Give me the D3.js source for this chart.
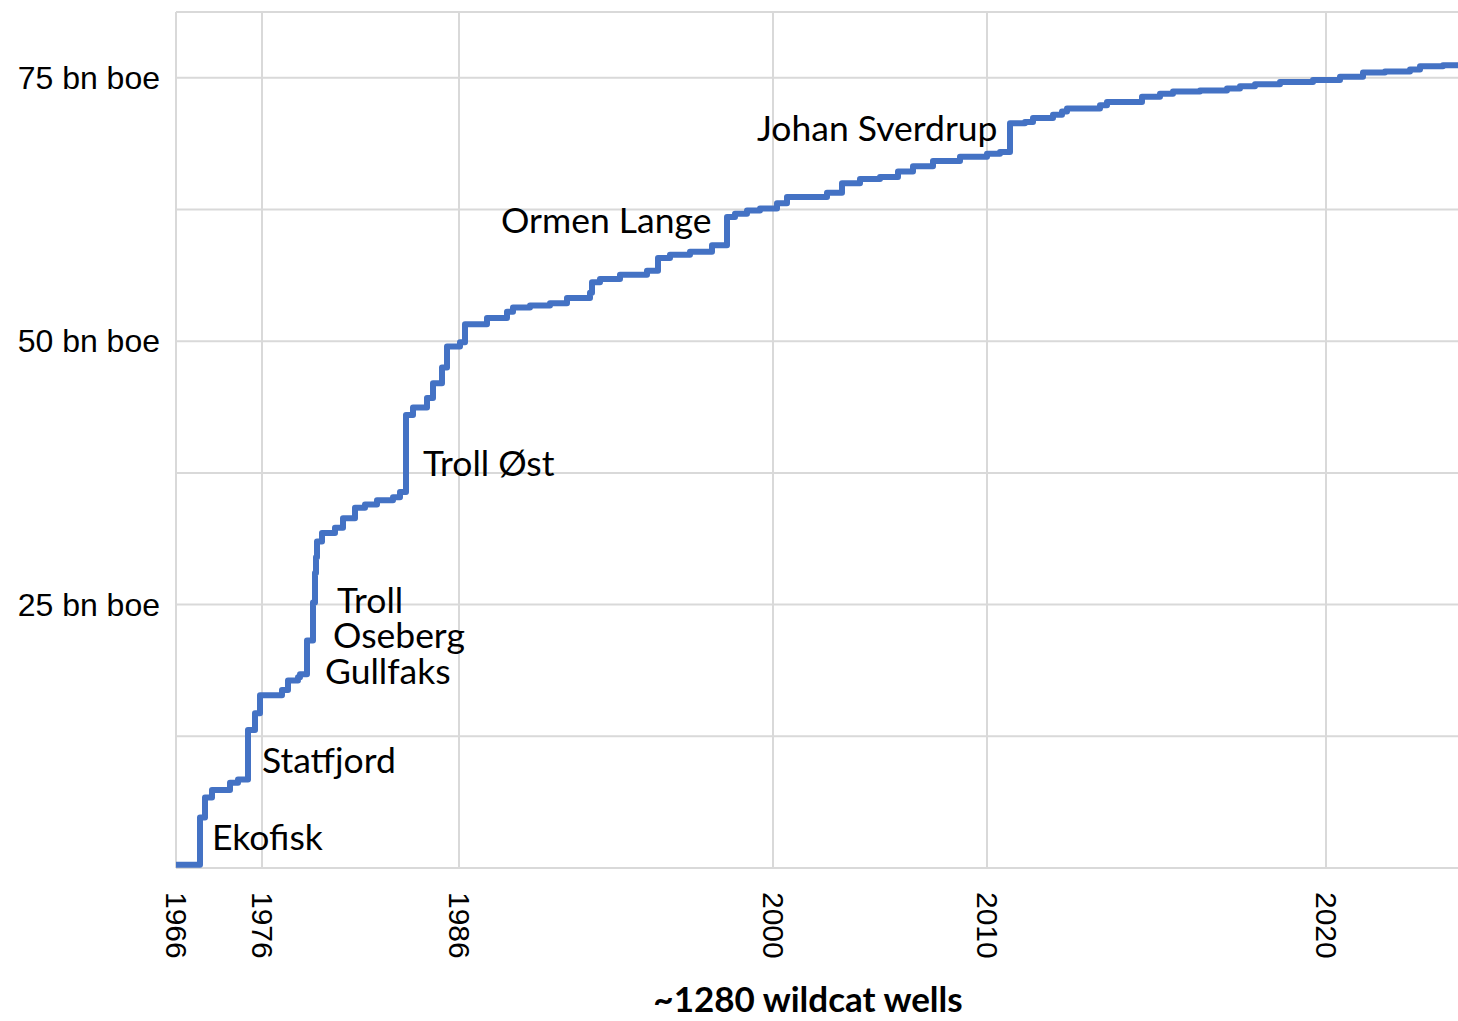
<!DOCTYPE html>
<html>
<head>
<meta charset="utf-8">
<script src="https://cdn.jsdelivr.net/npm/d3@7"></script>
<style>
  html, body { margin: 0; padding: 0; background: #fff; }
  svg { display: block; }
</style>
</head>
<body>
<div id="chart"></div>
<script>
// ---- Data (well index -> cumulative discovered resources, bn boe) ----
const wells = [0, 24, 29, 36, 54, 62, 72, 79, 84, 106, 112, 122, 124, 131, 137, 139, 140, 141, 146,
  159, 167, 179, 189, 201, 217, 224, 230, 237, 251, 257, 266, 271, 284, 289, 311, 331, 337,
  354, 374, 391, 414, 416, 424, 444, 471, 482, 494, 514, 536, 551, 559, 571,
  584, 601, 611, 651, 666, 684, 704, 722, 737, 757, 784, 811, 824, 834, 849, 857, 877, 886, 891,
  924, 931, 966, 984, 997, 1024, 1051, 1064, 1079, 1104, 1137, 1164, 1187, 1209, 1234, 1244, 1267, 1282];
const cumulative = [0.3, 4.8, 6.7, 7.4, 8.1, 8.4, 13.1, 14.7, 16.4, 16.9, 17.8, 18.1, 18.4, 21.6, 25.2, 28.0, 29.5, 31.0, 31.8,
  32.3, 33.2, 34.2, 34.5, 34.9, 35.2, 35.7, 43.0, 43.7, 44.6, 46.0, 47.5, 49.5, 49.9, 51.6, 52.2, 52.8, 53.2,
  53.4, 53.6, 54.1, 54.6, 55.6, 55.9, 56.3, 56.7, 57.9, 58.2, 58.5, 59.1, 61.8, 62.1, 62.4,
  62.6, 63.1, 63.7, 64.1, 65.0, 65.4, 65.6, 66.1, 66.6, 67.1, 67.5, 67.8, 67.95, 70.7, 70.8, 71.2, 71.5, 71.8, 72.1,
  72.4, 72.7, 73.2, 73.5, 73.7, 73.8, 74.0, 74.2, 74.4, 74.6, 74.8, 75.1, 75.5, 75.6, 75.8, 76.1, 76.2, 76.3];

// Year tick labels placed at the well index where each year starts
const tickYears = ["1966", "1976", "1986", "2000", "2010", "2020"];
const tickWells = [0, 86, 283, 597, 811, 1150];

// Y axis gridlines and labels
const yGrid = [0, 12.5, 25, 37.5, 50, 62.5, 75, 81.25];
const yLabelValues = [25, 50, 75];
const yLabelTexts = ["25 bn boe", "50 bn boe", "75 bn boe"];

// Field annotations (anchored in data space: well index, bn boe)
const fieldNames = ["Ekofisk", "Statfjord", "Troll", "Oseberg", "Gullfaks", "Troll Øst", "Ormen Lange", "Johan Sverdrup"];
const fieldWells = [36, 86, 161, 157, 149, 247, 325, 581];
const fieldValues = [1.7, 9.0, 24.2, 20.9, 17.5, 37.2, 60.3, 69.0];

const xTitle = "~1280 wildcat wells";

// ---- Layout ----
const W = 1458, H = 1021;
const margin = { left: 176, right: 0, top: 12, bottom: 153 };

const svg = d3.select("#chart").append("svg")
  .attr("width", W).attr("height", H);

const x = d3.scaleLinear().domain([0, 1282]).range([margin.left, W - margin.right]);
const y = d3.scaleLinear().domain([0, 81.25]).range([H - margin.bottom, margin.top]);

const gridColor = "#d9d9d9";

// Horizontal gridlines
svg.append("g").selectAll("line").data(yGrid).join("line")
  .attr("x1", x(0)).attr("x2", x(1282))
  .attr("y1", d => y(d)).attr("y2", d => y(d))
  .attr("stroke", gridColor).attr("stroke-width", 2);

// Vertical gridlines at year ticks
svg.append("g").selectAll("line").data(tickWells).join("line")
  .attr("x1", d => x(d)).attr("x2", d => x(d))
  .attr("y1", y(0)).attr("y2", y(81.25))
  .attr("stroke", gridColor).attr("stroke-width", 2);

// Y labels
svg.append("g").selectAll("text").data(yLabelValues).join("text")
  .attr("x", 160).attr("y", d => y(d))
  .attr("text-anchor", "end").attr("dominant-baseline", "central")
  .attr("font-family", "'Liberation Sans', Arial, sans-serif")
  .attr("font-size", 32).attr("fill", "#000")
  .text((d, i) => yLabelTexts[i]);

// X tick labels (rotated, reading top to bottom)
svg.append("g").selectAll("text").data(tickWells).join("text")
  .attr("transform", d => `translate(${x(d)},${y(0) + 24}) rotate(90)`)
  .attr("text-anchor", "start").attr("dominant-baseline", "central")
  .attr("font-family", "'Liberation Sans', Arial, sans-serif")
  .attr("font-size", 30).attr("fill", "#000")
  .text((d, i) => tickYears[i]);

// X title
svg.append("text")
  .attr("x", 808).attr("y", 1012)
  .attr("text-anchor", "middle")
  .attr("font-family", "Lato, 'Open Sans', sans-serif")
  .attr("font-weight", "bold")
  .attr("font-size", 35).attr("fill", "#000")
  .text(xTitle);

// Line
const pts = wells.map((w, i) => [w, cumulative[i]]);
const line = d3.line().x(d => x(d[0])).y(d => y(d[1])).curve(d3.curveStepAfter);
svg.append("path").datum(pts)
  .attr("d", line)
  .attr("fill", "none")
  .attr("stroke", "#4472C4")
  .attr("stroke-width", 6)
  .attr("stroke-linejoin", "round")
  .attr("stroke-linecap", "butt");

// Annotations
svg.append("g").selectAll("text").data(fieldNames).join("text")
  .attr("x", (d, i) => x(fieldWells[i]))
  .attr("y", (d, i) => y(fieldValues[i]))
  .attr("font-family", "Lato, 'Open Sans', sans-serif")
  .attr("font-size", 35.5).attr("fill", "#000")
  .text(d => d);
</script>
</body>
</html>
